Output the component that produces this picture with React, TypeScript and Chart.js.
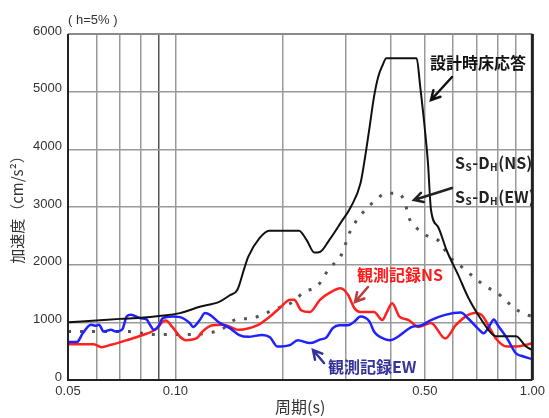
import React, { useEffect, useRef } from "react";
import { Chart, registerables } from "chart.js";

Chart.register(...registerables);

// ---- Data (period in s, acceleration in cm/s^2) ----
const designPeriods = [0.05, 0.06, 0.07, 0.08, 0.09, 0.103, 0.117, 0.133, 0.142, 0.149, 0.156, 0.16, 0.172, 0.183, 0.222, 0.233, 0.245, 0.254, 0.27, 0.29, 0.31, 0.33, 0.34, 0.35, 0.36, 0.37, 0.38, 0.39, 0.474, 0.485, 0.5, 0.51, 0.52, 0.545, 0.575, 0.62, 0.66, 0.71, 0.76, 0.79, 0.9, 0.96, 1.0];
const designValues = [1000, 1030, 1060, 1080, 1110, 1160, 1270, 1360, 1470, 1560, 1940, 2140, 2460, 2590, 2590, 2430, 2210, 2220, 2430, 2720, 3000, 3410, 3870, 4390, 4910, 5260, 5450, 5580, 5580, 5090, 4340, 3760, 2950, 2650, 2250, 1820, 1440, 1100, 840, 760, 760, 580, 520];

const ssPeriods = [0.05, 0.074, 0.086, 0.11, 0.125, 0.134, 0.15, 0.16, 0.175, 0.19, 0.21, 0.23, 0.25, 0.27, 0.29, 0.31, 0.34, 0.36, 0.39, 0.42, 0.44, 0.45, 0.475, 0.51, 0.55, 0.58, 0.64, 0.69, 0.74, 0.79, 0.84, 0.88, 0.94, 1.0];
const ssValues = [840, 840, 790, 790, 820, 870, 1060, 1060, 1130, 1230, 1330, 1530, 1630, 1940, 2140, 2600, 2950, 3090, 3240, 3240, 3070, 2830, 2630, 2490, 2400, 2170, 1940, 1770, 1620, 1530, 1390, 1270, 1160, 1100];

const nsPeriods = [0.05, 0.059, 0.062, 0.066, 0.073, 0.081, 0.089, 0.092, 0.094, 0.098, 0.103, 0.107, 0.115, 0.119, 0.127, 0.136, 0.145, 0.15, 0.17, 0.184, 0.196, 0.21, 0.215, 0.225, 0.238, 0.254, 0.27, 0.29, 0.305, 0.317, 0.33, 0.36, 0.38, 0.39, 0.405, 0.424, 0.45, 0.48, 0.52, 0.57, 0.61, 0.65, 0.69, 0.72, 0.76, 0.79, 0.85, 0.9, 0.96, 1.0];
const nsValues = [620, 620, 570, 610, 690, 780, 900, 1010, 1030, 920, 750, 690, 730, 840, 950, 960, 900, 870, 950, 1100, 1250, 1390, 1390, 1210, 1180, 1390, 1510, 1590, 1470, 1250, 1180, 1180, 1040, 1160, 1330, 1100, 1040, 920, 990, 720, 950, 1100, 1160, 1130, 900, 720, 580, 580, 610, 640];

const ewPeriods = [0.05, 0.053, 0.055, 0.058, 0.06, 0.061, 0.063, 0.066, 0.068, 0.071, 0.073, 0.075, 0.08, 0.083, 0.085, 0.087, 0.09, 0.092, 0.098, 0.103, 0.11, 0.112, 0.117, 0.121, 0.125, 0.133, 0.142, 0.151, 0.16, 0.175, 0.184, 0.193, 0.21, 0.22, 0.238, 0.254, 0.265, 0.276, 0.288, 0.304, 0.317, 0.33, 0.35, 0.36, 0.39, 0.4, 0.42, 0.46, 0.49, 0.52, 0.57, 0.63, 0.66, 0.71, 0.73, 0.76, 0.78, 0.8, 0.85, 0.9, 0.93, 1.0];
const ewValues = [660, 660, 810, 960, 940, 960, 840, 870, 840, 880, 1100, 1130, 1070, 1050, 950, 870, 950, 1070, 1100, 1090, 980, 920, 1040, 1160, 1130, 990, 900, 780, 750, 780, 740, 580, 610, 690, 640, 700, 740, 900, 950, 950, 1010, 1100, 1010, 840, 700, 690, 750, 920, 950, 1040, 1130, 1170, 1070, 870, 810, 950, 1050, 950, 720, 460, 420, 360];

const xGridValues = [0.05, 0.06, 0.07, 0.08, 0.09, 0.1, 0.2, 0.3, 0.4, 0.5, 0.6, 0.7, 0.8, 0.9, 1.0];
const xLabeledValues = [0.05, 0.1, 0.5, 1.0];
const xLabelTexts = ["0.05", "0.10", "0.50", "1.00"];
const yMin = 0;
const yMax = 6000;
const yStep = 1000;

function toPoints(t: number[], v: number[]) {
  return t.map((x, i) => ({ x, y: v[i] }));
}

function arrow(ctx: CanvasRenderingContext2D, x1: number, y1: number, x2: number, y2: number, color: string) {
  ctx.save();
  ctx.strokeStyle = color;
  ctx.lineWidth = 2.5;
  ctx.lineCap = "round";
  ctx.beginPath();
  ctx.moveTo(x1, y1);
  ctx.lineTo(x2, y2);
  const a = Math.atan2(y2 - y1, x2 - x1);
  const L = 10;
  ctx.moveTo(x2 - L * Math.cos(a - 0.5), y2 - L * Math.sin(a - 0.5));
  ctx.lineTo(x2, y2);
  ctx.lineTo(x2 - L * Math.cos(a + 0.5), y2 - L * Math.sin(a + 0.5));
  ctx.stroke();
  ctx.restore();
}

function ssLabel(ctx: CanvasRenderingContext2D, x: number, y: number, comp: string) {
  const big = 'bold 16px "Noto Sans CJK JP", "DejaVu Sans", sans-serif';
  const small = 'bold 10px "Noto Sans CJK JP", "DejaVu Sans", sans-serif';
  const parts: [string, string, number][] = [
    ["S", big, 0],
    ["S", small, 4],
    ["-D", big, 0],
    ["H", small, 4],
    ["(" + comp + ")", big, 0],
  ];
  let cx = x;
  for (const [t, f, dy] of parts) {
    ctx.font = f;
    ctx.fillText(t, cx, y + dy);
    cx += ctx.measureText(t).width + 0.5;
  }
}

const decorPlugin = {
  id: "decor",
  afterDatasetsDraw(chart: any) {
    const ctx: CanvasRenderingContext2D = chart.ctx;
    const { left, top, right, bottom } = chart.chartArea;
    ctx.save();
    // frame
    ctx.strokeStyle = "#8a8a8a";
    ctx.lineWidth = 2;
    ctx.beginPath();
    ctx.moveTo(left, top);
    ctx.lineTo(right, top);
    ctx.stroke();
    ctx.strokeStyle = "#222";
    ctx.lineWidth = 2;
    ctx.beginPath();
    ctx.moveTo(left, top);
    ctx.lineTo(left, bottom);
    ctx.lineTo(right, bottom);
    ctx.stroke();
    ctx.lineWidth = 3;
    ctx.beginPath();
    ctx.moveTo(right, top);
    ctx.lineTo(right, bottom);
    ctx.stroke();

    ctx.textBaseline = "middle";
    ctx.textAlign = "left";
    // damping note
    ctx.fillStyle = "#333";
    ctx.font = '13px "Liberation Sans", Arial, sans-serif';
    ctx.fillText("( h=5% )", left, top - 14);

    // axis titles
    ctx.fillStyle = "#333";
    ctx.font = '16px "Noto Sans CJK JP", sans-serif';
    ctx.fillText("周期(s)", 275, 407);
    ctx.save();
    ctx.translate(17, 206);
    ctx.rotate(-Math.PI / 2);
    ctx.textAlign = "center";
    ctx.font = '15px "Noto Sans CJK JP", sans-serif';
    ctx.fillText("加速度（cm/s²）", 0, 0);
    ctx.restore();

    // annotations
    ctx.fillStyle = "#111";
    ctx.font = 'bold 16px "Noto Sans CJK JP", sans-serif';
    ctx.fillText("設計時床応答", 430, 63);
    arrow(ctx, 452, 77, 431, 100, "#111");

    ctx.fillStyle = "#222";
    ssLabel(ctx, 455, 163, "NS");
    ssLabel(ctx, 455, 197, "EW");
    arrow(ctx, 452, 188, 414, 200, "#222");

    ctx.fillStyle = "#ff1a1a";
    ctx.font = 'bold 16px "Noto Sans CJK JP", sans-serif';
    ctx.fillText("観測記録NS", 357, 275);
    arrow(ctx, 368, 287, 355, 302, "#b83c3c");

    ctx.fillStyle = "#333399";
    ctx.font = 'bold 16px "Noto Sans CJK JP", sans-serif';
    ctx.fillText("観測記録EW", 328, 367);
    arrow(ctx, 324, 363, 313, 350, "#333399");
    ctx.restore();
  },
};

export default function App() {
  const ref = useRef<HTMLCanvasElement | null>(null);
  useEffect(() => {
    document.body.style.margin = "0";
    const canvas = ref.current;
    if (!canvas) return;
    const chart = new Chart(canvas, {
      type: "line",
      data: {
        datasets: [
          {
            label: "設計時床応答",
            data: toPoints(designPeriods, designValues),
            borderColor: "#111",
            borderWidth: 2,
            pointRadius: 0,
            cubicInterpolationMode: "monotone",
          },
          {
            label: "観測記録EW",
            data: toPoints(ewPeriods, ewValues),
            borderColor: "#1f22ff",
            borderWidth: 2.5,
            pointRadius: 0,
            cubicInterpolationMode: "monotone",
          },
          {
            label: "観測記録NS",
            data: toPoints(nsPeriods, nsValues),
            borderColor: "#ff2020",
            borderWidth: 2.5,
            pointRadius: 0,
            cubicInterpolationMode: "monotone",
          },
          {
            label: "Ss-DH",
            data: toPoints(ssPeriods, ssValues),
            borderColor: "#555",
            borderWidth: 3,
            borderDash: [3, 9],
            pointRadius: 0,
            cubicInterpolationMode: "monotone",
          },
        ],
      },
      options: {
        responsive: false,
        animation: false,
        devicePixelRatio: 1,
        layout: { padding: { left: 0, right: 16, top: 34, bottom: 0 } },
        plugins: { legend: { display: false }, tooltip: { enabled: false } },
        scales: {
          x: {
            type: "logarithmic",
            min: 0.05,
            max: 1.0,
            border: { display: false },
            afterBuildTicks: (scale: any) => {
              scale.ticks = xGridValues.map((v) => ({ value: v }));
            },
            afterFit: (scale: any) => {
              scale.height = 38;
            },
            grid: {
              drawTicks: false,
              color: (c: any) => {
                const v = c.tick ? c.tick.value : 0;
                if (Math.abs(v - 0.09) < 1e-6) return "#555";
                return "#999";
              },
              lineWidth: 1.5,
            },
            ticks: {
              autoSkip: false,
              maxRotation: 0,
              padding: 4,
              color: "#333",
              font: { family: '"Liberation Sans", Arial, sans-serif', size: 13 },
              callback: (value: any) => {
                const i = xLabeledValues.findIndex((v) => Math.abs(v - Number(value)) < 1e-6);
                return i >= 0 ? xLabelTexts[i] : "";
              },
            },
          },
          y: {
            type: "linear",
            min: yMin,
            max: yMax,
            border: { display: false },
            afterFit: (scale: any) => {
              scale.width = 68;
            },
            grid: { drawTicks: false, color: "#999", lineWidth: 1.5 },
            ticks: {
              stepSize: yStep,
              padding: 6,
              labelOffset: -3,
              color: "#333",
              font: { family: '"Liberation Sans", Arial, sans-serif', size: 13 },
              callback: (value: any) => String(value),
            },
          },
        },
      },
      plugins: [decorPlugin],
    } as any);
    return () => chart.destroy();
  }, []);
  return (
    <canvas
      ref={ref}
      width={549}
      height={418}
      style={{ display: "block", width: 549, height: 418 }}
    />
  );
}
